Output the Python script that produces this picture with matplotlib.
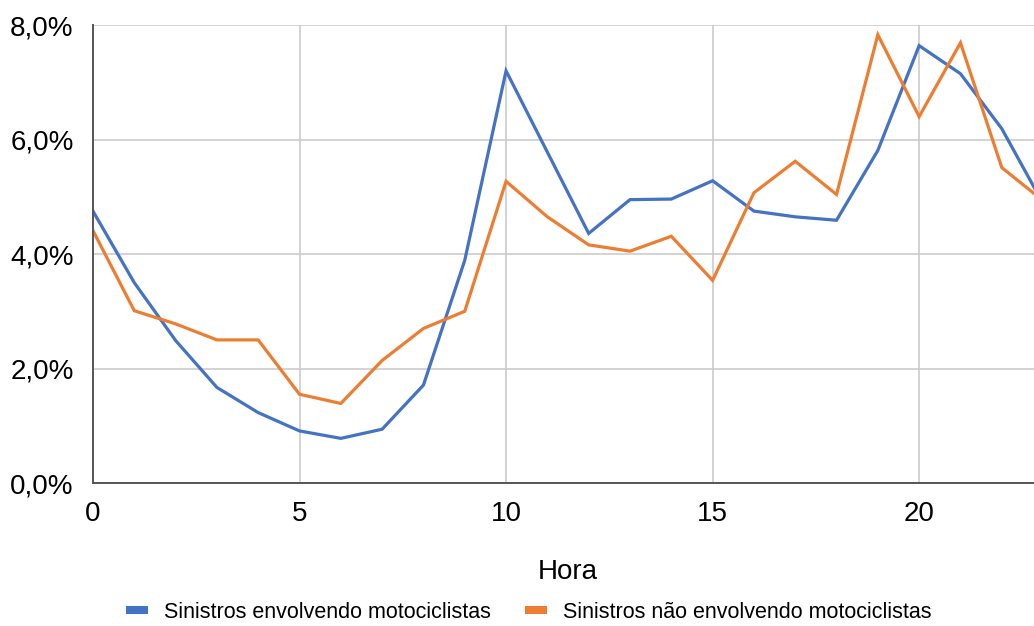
import matplotlib
matplotlib.use("Agg")
import matplotlib.pyplot as plt
from matplotlib.ticker import FuncFormatter, FixedLocator
from matplotlib.lines import Line2D

plt.rcParams['font.family'] = ['Liberation Sans', 'DejaVu Sans']

hours = list(range(24))
moto = [4.75, 3.50, 2.49, 1.67, 1.23, 0.91, 0.78, 0.94, 1.71, 3.89, 7.20, 5.78,
        4.36, 4.95, 4.96, 5.28, 4.75, 4.65, 4.59, 5.81, 7.64, 7.15, 6.19, 4.88]
nao_moto = [4.41, 3.01, 2.78, 2.50, 2.50, 1.55, 1.39, 2.14, 2.70, 3.00, 5.27, 4.65,
            4.16, 4.05, 4.31, 3.54, 5.07, 5.62, 5.04, 7.83, 6.40, 7.69, 5.51, 4.93]
labels = ["Sinistros envolvendo motociclistas", "Sinistros não envolvendo motociclistas"]
x_ticks = [0, 5, 10, 15, 20]
y_ticks = [0, 2, 4, 6, 8]

blue = "#4472C4"
orange = "#ED7D31"

fig = plt.figure(figsize=(10.34, 6.26), dpi=100)
ax = fig.add_axes([0.0899, 0.2284, 0.9101, 0.7316])

ax.plot(hours, moto, color=blue, lw=2.3, solid_joinstyle="miter")
ax.plot(hours, nao_moto, color=orange, lw=2.3, solid_joinstyle="miter")

ax.set_xlim(0, 22.78)
ax.set_ylim(0, 8)
ax.xaxis.set_major_locator(FixedLocator(x_ticks))
ax.yaxis.set_major_locator(FixedLocator(y_ticks))
ax.yaxis.set_major_formatter(FuncFormatter(lambda v, p: f"{v:.1f}".replace(".", ",") + "%"))

ax.grid(True, color="#cccccc", lw=1.2)
ax.set_axisbelow(True)
for s in ["top", "right"]:
    ax.spines[s].set_visible(False)
for s in ["left", "bottom"]:
    ax.spines[s].set_color("#555555")
    ax.spines[s].set_linewidth(1.4)

ax.tick_params(axis="both", length=0, labelsize=20, colors="black")
ax.tick_params(axis="x", pad=13)
ax.tick_params(axis="y", pad=14)

fig.text(568 / 1034, 1 - 572 / 626, "Hora", ha="center", va="center", fontsize=20)

handles = [Line2D([], [], color=blue, lw=5.8, solid_capstyle="butt"),
           Line2D([], [], color=orange, lw=5.8, solid_capstyle="butt")]
fig.legend(handles, labels, loc="center", bbox_to_anchor=(529 / 1034, 1 - 612 / 626),
           ncol=2, frameon=False, fontsize=15.5, handlelength=1.0, handletextpad=0.75,
           columnspacing=1.6, borderpad=0, borderaxespad=0)

fig.savefig("out.png", dpi=100)
